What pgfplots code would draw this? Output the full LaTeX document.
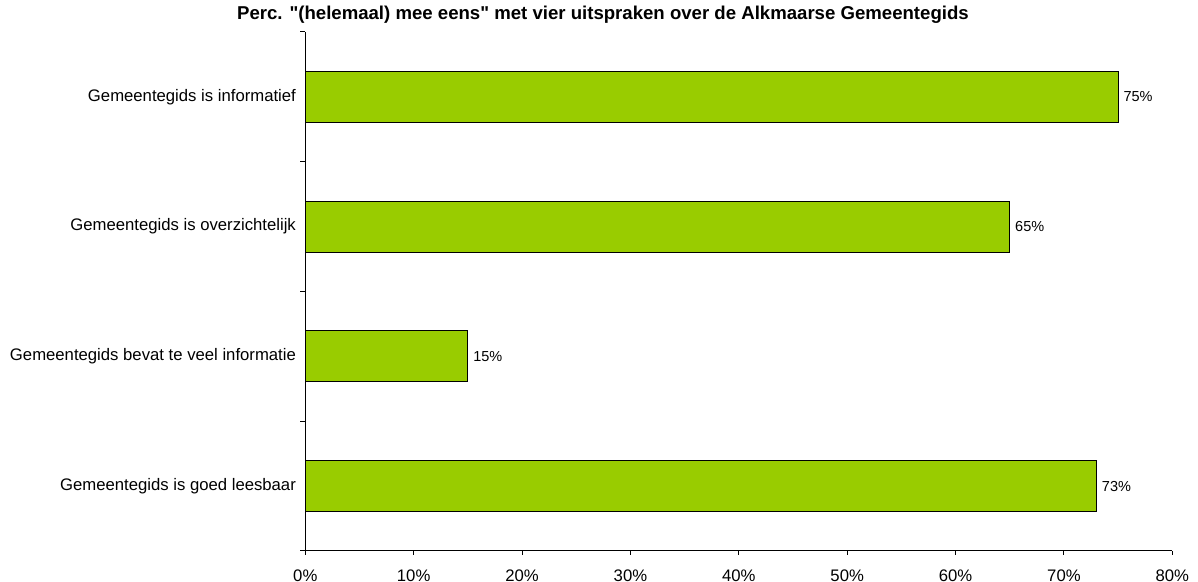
\documentclass[border=0pt]{standalone}
\usepackage{fontspec}
\setmainfont{Liberation Sans}
\newfontfamily\plainfont{Liberation Sans}
\usepackage{pgfplots}
\pgfplotsset{compat=1.18}
\definecolor{bargreen}{HTML}{99CC00}
\begin{document}
\begin{tikzpicture}
\path[use as bounding box] (0,0) rectangle (599pt,291pt);
\begin{axis}[
  at={(152.65pt,15.5pt)}, anchor=south west,
  width=433.5pt, height=259.5pt, scale only axis,
  xbar, bar width=25.5pt,
  xmin=0, xmax=80, ymin=-0.5, ymax=3.5,
  enlargelimits=false, clip=false,
  axis lines*=left,
  axis line style={line width=0.5pt, black},
  /pgf/number format/assume math mode=true,
  xtick={0,10,...,80},
  xticklabel={\pgfmathprintnumber{\tick}\%},
  ytick={0,1,2,3},
  yticklabels={Gemeentegids is goed leesbaar, Gemeentegids bevat te veel informatie, Gemeentegids is overzichtelijk, Gemeentegids is informatief},
  minor ytick={-0.5,0.5,1.5,2.5,3.5},
  tick align=outside,
  major tick length=2pt, minor tick length=2.5pt,
  tick style={black, line width=0.5pt},
  major y tick style={draw=none},
  tick label style={font=\fontsize{8.35}{10}\selectfont},
  yticklabel style={inner sep=0pt, xshift=-2.5pt},
  xticklabel style={inner sep=0pt, yshift=-7pt},
  nodes near coords={\pgfmathprintnumber{\pgfplotspointmeta}\%},
  nodes near coords style={font=\fontsize{7.25}{9}\selectfont, anchor=west, inner sep=0pt, xshift=2.5pt},
]
\addplot[fill=bargreen, draw=black, line width=0.5pt] coordinates {(73,0) (15,1) (65,2) (75,3)};
\end{axis}
\node[font=\plainfont\bfseries\fontsize{9.3}{11}\selectfont] at (301.5pt,283.5pt) {Perc. "(helemaal) mee eens" met vier uitspraken over de Alkmaarse Gemeentegids};
\end{tikzpicture}
\end{document}
